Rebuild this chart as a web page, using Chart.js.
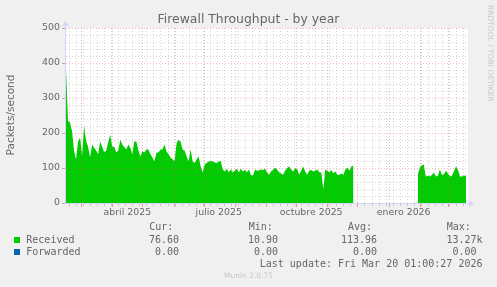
<!DOCTYPE html>
<html>
<head>
<meta charset="utf-8">
<script src="https://cdn.jsdelivr.net/npm/chart.js@4.4.1/dist/chart.umd.min.js"></script>
<style>
  body { margin: 0; background: #f0f0f0; }
  #wrap { position: relative; width: 497px; height: 287px; overflow: hidden; font-family: "DejaVu Sans", sans-serif; color: #666; }
  canvas { position: absolute; left: 0; top: 0; }
  .t { position: absolute; white-space: pre; }
  .m { font-family: "DejaVu Sans Mono", monospace; font-size: 10px; line-height: 10px; }
  .box { position: absolute; width: 6px; height: 6px; }
</style>
</head>
<body>
<div id="wrap">
  <canvas id="chart" width="497" height="287"></canvas>
  <div class="t" style="left:0;width:497px;text-align:center;top:13px;font-size:12.4px;line-height:12px;">Firewall Throughput - by year</div>
  <div class="t" style="left:-50px;top:109px;width:120px;height:12px;line-height:12px;font-size:10.5px;text-align:center;transform:rotate(-90deg);">Packets/second</div>
  <div class="t" style="left:494px;top:5px;font-size:7.5px;line-height:8px;color:#c8c8c8;transform-origin:0 0;transform:rotate(90deg);">RRDTOOL / TOBI OETIKER</div>
  <div id="legend"></div>
  <div class="t" style="left:0;width:497px;text-align:center;top:272px;font-size:7.5px;line-height:8px;color:#c8c8c8;">Munin 2.0.75</div>
</div>
<script>
// x axis is in days since 14 Feb 2025, plot ends ~21 Mar 2026
const xMax = 400;
const startDay = 0;
const stepDays = 2;

// Received packets/s, one value every 2 days (null = no data)
const received = [
  380, 235, 230, 205, 150, 124, 175, 187, 135, 219, 178, 160, 130, 167, 158, 150, 139, 176, 161, 144, 150, 173, 196,
  161, 161, 144, 150, 181, 167, 160, 153, 167, 158, 139, 176, 176, 150, 133, 147, 144, 153, 153, 139, 130, 119, 144,
  144, 153, 153, 167, 147, 140, 130, 125, 119,
  170, 181, 175, 153, 150, 133, 119, 153, 119, 114, 125, 133, 104, 87, 110, 114, 119, 119, 119, 116, 114, 119, 119,
  96, 90, 98, 88, 96, 87, 92, 98, 87, 98, 90, 94, 88, 96, 80, 78, 96, 92, 93, 96, 94, 98,
  88, 81, 90, 95, 101, 96, 88, 84, 81, 92, 100, 104, 96, 90, 99, 97, 81, 92, 104, 90, 81, 92, 94, 90, 92, 96, 88, 87,
  39, 96, 92, 88, 94, 85, 90, 81, 81, 84, 81, 96, 101, 92, 104, 107,
  null, null, null, null, null, null, null, null, null, null, null, null, null, null, null, null,
  null, null, null, null, null, null, null, null, null, null, null, null, null, null, null,
  80, 101, 108, 110, 76, 78, 76, 80, 87, 76, 78, 96, 80, 82, 92, 85, 76, 78, 90, 104, 96, 76, 76, 78, 78
];

// month starts (major grid) and Mondays (minor grid), in days
const monthDays = [15, 46, 76, 107, 137, 168, 199, 229, 260, 290, 321, 352, 380];
const weekDays = [3, 10, 17, 24, 31, 38, 45, 52, 59, 66, 73, 80, 87, 94, 101, 108, 115, 122, 129, 136, 143, 150,
  157, 164, 171, 178, 185, 192, 199, 206, 213, 220, 227, 234, 241, 248, 255, 262, 269, 276, 283, 290, 297, 304,
  311, 318, 325, 332, 339, 346, 353, 360, 367, 374, 381, 388, 395];
const labelDays = [61, 152, 244, 336];
const labelText = ["abril 2025", "julio 2025", "octubre 2025", "enero 2026"];

const yTicks = [0, 100, 200, 300, 400, 500];
const yMinor = [20, 40, 60, 80, 120, 140, 160, 180, 220, 240, 260, 280, 320, 340, 360, 380, 420, 440, 460, 480];

// legend table
const seriesNames = ["Received", "Forwarded"];
const seriesColors = ["#00cc00", "#0066b3"];
const curVals = ["76.60", "0.00"];
const minVals = ["10.90", "0.00"];
const avgVals = ["113.96", "0.00"];
const maxVals = ["13.27k", "0.00"];
const lastUpdate = "Last update: Fri Mar 20 01:00:27 2026";

let points = [];
for (let i = 0; i < received.length; i++) {
  points.push({ x: startDay + i * stepDays, y: received[i] });
}

// legend as text
let legend = document.getElementById("legend");
let html = "";
const colRight = [179, 278, 377, 482.5];
const heads = ["Cur:", "Min:", "Avg:", "Max:"];
const headLeft = [149.3, 248.7, 348, 446.7];
heads.forEach((h, i) => {
  html += '<div class="t m" style="left:' + headLeft[i] + 'px;top:222px;">' + h + '</div>';
});
seriesNames.forEach((name, r) => {
  let top = 235 + r * 12;
  html += '<div class="box" style="left:14px;top:' + (top + 2) + 'px;background:' + seriesColors[r] + ';"></div>';
  html += '<div class="t m" style="left:26.3px;top:' + top + 'px;">' + name + '</div>';
  [curVals, minVals, avgVals, maxVals].forEach((vals, c) => {
    let right = colRight[c];
    if (c == 3 && vals[r].slice(-1) != "k") right -= 6;
    html += '<div class="t m" style="right:' + (497 - right) + 'px;top:' + top + 'px;">' + vals[r] + '</div>';
  });
});
html += '<div class="t m" style="right:' + (497 - 482.5) + 'px;top:258.5px;">' + lastUpdate + '</div>';
legend.innerHTML = html;

const muninGrid = {
  id: "muninGrid",
  beforeDatasetsDraw(chart) {
    const { ctx, chartArea: a } = chart;
    ctx.save();
    ctx.fillStyle = "#ffffff";
    ctx.fillRect(a.left, a.top, a.right - a.left, a.bottom - a.top);
    ctx.restore();
  },
  afterDatasetsDraw(chart) {
    const { ctx, chartArea: a, scales } = chart;
    const x = scales.x, y = scales.y;
    ctx.save();
    ctx.lineWidth = 1;
    ctx.setLineDash([1, 2]);

    // minor grid
    ctx.strokeStyle = "rgba(128,128,128,0.32)";
    ctx.beginPath();
    weekDays.forEach((d) => {
      if (monthDays.includes(d)) return;
      let px = Math.round(x.getPixelForValue(d)) + 0.5;
      ctx.moveTo(px, a.top);
      ctx.lineTo(px, a.bottom);
    });
    yMinor.forEach((v) => {
      let py = Math.round(y.getPixelForValue(v)) + 0.5;
      ctx.moveTo(a.left, py);
      ctx.lineTo(a.right, py);
    });
    ctx.stroke();

    // major grid
    ctx.strokeStyle = "rgba(230,70,70,0.38)";
    ctx.beginPath();
    monthDays.forEach((d) => {
      let px = Math.round(x.getPixelForValue(d)) + 0.5;
      ctx.moveTo(px, a.top);
      ctx.lineTo(px, a.bottom);
    });
    yTicks.forEach((v) => {
      if (v == 0) return;
      let py = Math.round(y.getPixelForValue(v)) + 0.5;
      ctx.moveTo(a.left, py);
      ctx.lineTo(a.right, py);
    });
    ctx.stroke();
    ctx.setLineDash([]);

    // small tick marks outside the plot
    ctx.strokeStyle = "rgba(225,60,60,0.5)";
    ctx.beginPath();
    monthDays.forEach((d) => {
      let px = Math.round(x.getPixelForValue(d)) + 0.5;
      ctx.moveTo(px, a.bottom + 1);
      ctx.lineTo(px, a.bottom + 4);
    });
    yTicks.forEach((v) => {
      let py = Math.round(y.getPixelForValue(v)) + 0.5;
      ctx.moveTo(a.left - 4, py);
      ctx.lineTo(a.left - 1, py);
    });
    ctx.stroke();
    ctx.strokeStyle = "rgba(128,128,128,0.4)";
    ctx.beginPath();
    weekDays.forEach((d) => {
      if (monthDays.includes(d)) return;
      let px = Math.round(x.getPixelForValue(d)) + 0.5;
      ctx.moveTo(px, a.bottom + 1);
      ctx.lineTo(px, a.bottom + 3);
    });
    ctx.stroke();

    // axes with arrows
    ctx.strokeStyle = "#cfd6f8";
    ctx.fillStyle = "#cfd6f8";
    ctx.beginPath();
    ctx.moveTo(a.left - 0.5, a.bottom + 1);
    ctx.lineTo(a.left - 0.5, a.top - 3);
    ctx.moveTo(a.left - 1, a.bottom + 0.5);
    ctx.lineTo(a.right + 2, a.bottom + 0.5);
    ctx.stroke();
    ctx.beginPath();
    ctx.moveTo(a.left - 0.5, a.top - 7);
    ctx.lineTo(a.left - 3.5, a.top - 2);
    ctx.lineTo(a.left + 2.5, a.top - 2);
    ctx.closePath();
    ctx.fill();
    ctx.beginPath();
    ctx.moveTo(a.right + 6, a.bottom + 0.5);
    ctx.lineTo(a.right + 1, a.bottom - 2.5);
    ctx.lineTo(a.right + 1, a.bottom + 3.5);
    ctx.closePath();
    ctx.fill();
    ctx.restore();
  }
};

let ctx = document.getElementById("chart").getContext("2d");
let myChart = new Chart(ctx, {
  type: "line",
  data: {
    datasets: [
      {
        label: seriesNames[0],
        data: points,
        backgroundColor: seriesColors[0],
        borderColor: seriesColors[0],
        borderWidth: 0,
        pointRadius: 0,
        fill: "origin",
        tension: 0,
        spanGaps: false
      }
    ]
  },
  options: {
    responsive: false,
    animation: false,
    devicePixelRatio: 1,
    layout: { padding: { top: 28, right: 29, left: 0, bottom: 0 } },
    plugins: { legend: { display: false }, tooltip: { enabled: false }, title: { display: false } },
    scales: {
      x: {
        type: "linear",
        min: 0,
        max: xMax,
        grid: { display: false, drawTicks: false },
        border: { display: false },
        afterBuildTicks: (s) => { s.ticks = labelDays.map((v) => ({ value: v })); },
        afterFit: (s) => { s.height = 84; },
        ticks: {
          autoSkip: false,
          maxRotation: 0,
          padding: 4,
          color: "#666",
          font: { family: "DejaVu Sans", size: 9.4 },
          callback: (v, i) => labelText[i]
        }
      },
      y: {
        min: 0,
        max: 500,
        grid: { display: false, drawTicks: false },
        border: { display: false },
        afterBuildTicks: (s) => { s.ticks = yTicks.map((v) => ({ value: v })); },
        afterFit: (s) => { s.width = 66; },
        ticks: {
          padding: 6,
          color: "#666",
          font: { family: "DejaVu Sans", size: 9.4 }
        }
      }
    }
  },
  plugins: [muninGrid]
});
</script>
</body>
</html>
